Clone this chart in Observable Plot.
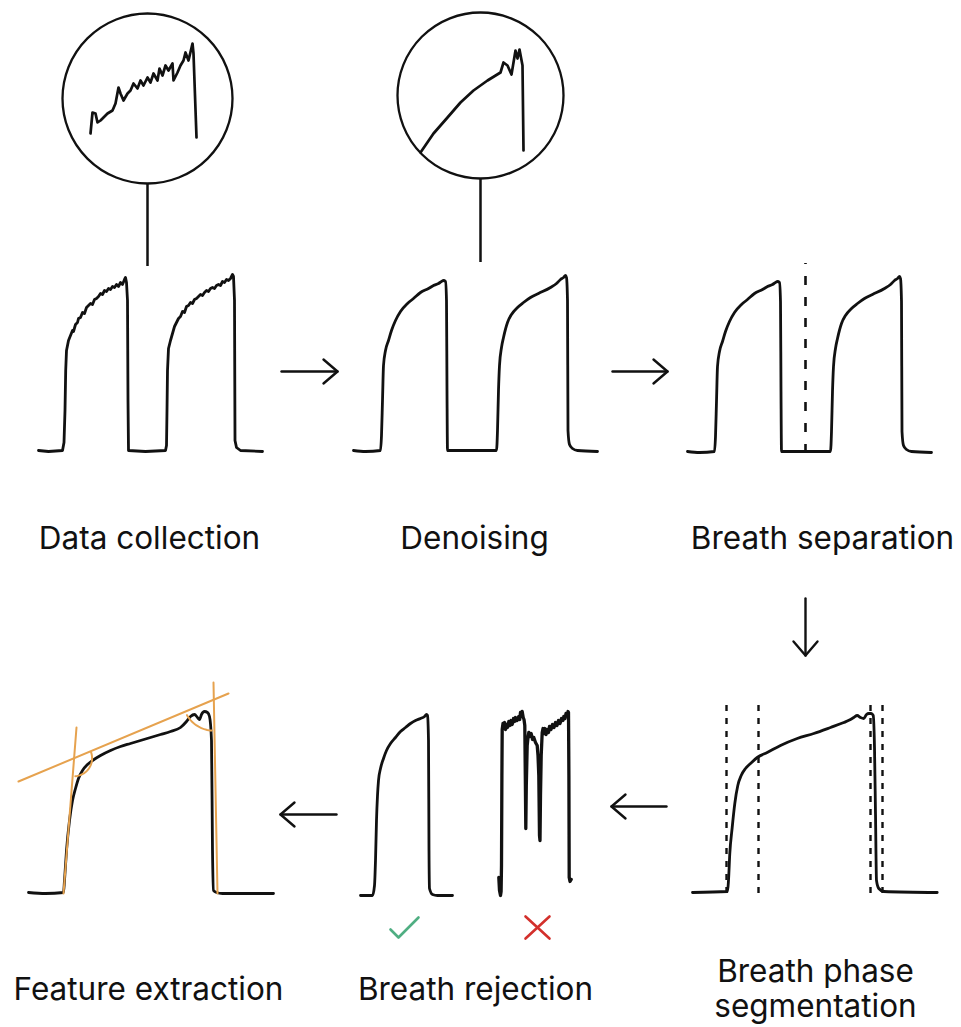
<!DOCTYPE html>
<html><head><meta charset="utf-8">
<script src="https://cdn.jsdelivr.net/npm/d3@7"></script>
<script src="https://cdn.jsdelivr.net/npm/@observablehq/plot@0.6"></script>
<style>html,body{margin:0;padding:0;background:#fff;} #chart svg{display:block}</style>
</head><body><div id="chart"></div>
<script>
// ---------- DATA: waveform shapes as [time, CO2 level] ----------
// Data collection: raw, noisy capnogram (two breaths)
const collectionWave = [[0,0],[10,-1],[24,0],[25.5,8],[26.5,40],[27.2,80],[28,100],[30,110],[32,115],[34,120],[35,119],[37,126],[39,128],[40,132],[42,133],[44,138],[46,137],[48,143],[50,145],[52,147],[54,146],[56,151],[58,152],[60,154],[62,157],[64,156],[66,160],[68,159],[70,162],[72,161],[74,164],[76,163],[78,166],[80,164],[82,168],[84,166],[86,171],[87,173],[88,168],[89,150],[89.5,50],[90,0],[107,-1],[127,0],[128,5],[128.5,40],[129,80],[130,102],[132,110],[134,117],[136,124],[138,128],[140,132],[142,134],[144,139],[146,138],[148,144],[150,145],[152,148],[154,147],[156,151],[158,152],[160,154],[162,156],[164,155],[166,158],[168,160],[170,159],[172,162],[174,163],[176,162],[178,165],[180,166],[182,165],[184,169],[186,168],[188,171],[190,170],[192,172],[194,176],[195,174],[196,150],[196.5,10],[198,3],[202,0],[224,-1]];
// Denoised capnogram (two breaths) – also used for breath separation
const smoothWave = [[0,0],[12,-1],[27,0],[28,15],[29,50],[30,85],[32,100],[35,110],[38,120],[42,130],[47,139],[54,147],[60,152],[67,158],[75,162],[80,165],[85,167],[88,169],[90,170],[92,169],[93,150],[93.5,60],[94,0],[117,0],[143,0],[144,20],[145,60],[146,85],[148,103],[150,113],[154,128],[158,136],[164,143],[170,148],[177,153],[185,157],[197,163],[203,167],[207,171],[210,173],[212,175],[213,173],[214,150],[214.5,20],[216,6],[219,2],[224,0],[244,-1]];
// Zoomed-in plateau, raw
const collectionZoom = [[-57,-35],[-55,-14],[-52,-15],[-50,-24],[-47,-22],[-44,-19],[-40,-15],[-35,-12],[-32,-5],[-29,11],[-27,5],[-24,-2],[-20,5],[-17,8],[-14,15],[-10,10],[-7,18],[-4,13],[0,21],[3,16],[6,25],[10,18],[12,30],[15,23],[18,33],[21,28],[25,35],[26,18],[30,26],[33,33],[36,38],[38,46],[41,38],[45,55],[46,45],[49,-39]];
// Zoomed-in plateau, denoised
const denoisingZoom = [[-60,-57],[-47,-38],[-33,-22],[-20,-7],[-7,5],[7,15],[20,23],[23,33],[27,30],[31,21],[35,45],[37,37],[39,46],[42,30],[43,-55]];
// Single breath used for phase segmentation
const phaseWave = [[0,0],[35,1],[36,12],[37.3,39],[39.7,65],[42.3,89],[45.3,107],[48.7,117],[53,124],[58,129],[64.7,135],[74.7,140],[88,147],[104.7,154],[121.3,159],[138,165],[151.3,170],[158,173],[161.3,175],[164.7,177],[168,175],[171.3,174],[174,178],[176.3,179],[178.7,179],[180.7,177],[182,145],[183,79],[184,12],[186.3,4],[191.3,1],[244.7,0]];
const phaseBoundaries = [34, 66, 178, 190];          // phase segmentation times
const separationBoundary = [118];                    // breath separation time
// Breath rejection: accepted and rejected breaths
const goodBreath = [[0,0],[12,0],[14,10],[15,35],[16,75],[17,100],[18,115],[20,127],[23,137],[26,145],[30,152],[35,158],[40,164],[45,168],[50,172],[55,175],[60,177],[64,179],[66,181],[67,180],[68,155],[68.5,45],[69,7],[72,1],[77,0],[92,0]];
const badBreath = [[0.3,18],[1,5],[2,0],[2.6,4],[3,30],[3.4,120],[3.7,166],[4.5,172],[5.3,168],[6.2,173],[7,166],[8,171],[9,168],[10.3,174],[11.5,170],[12.5,175],[13.7,171],[15,177],[16,174],[17,178],[18.5,175],[20.3,179],[21.2,176],[22,183],[23,180],[23.7,184],[24.7,178],[25.5,176],[26.3,170],[26.8,120],[27.3,67],[27.8,110],[28.7,150],[29.5,158],[30.3,163],[31.5,159],[32.7,162],[34,156],[35.3,158],[37,153],[38.7,150],[39.5,140],[40.3,120],[41,60],[41.5,55],[42,100],[42.7,140],[43.7,163],[44.5,167],[45.3,162],[46.5,167],[47.5,161],[48.7,166],[50,163],[51,169],[52.5,166],[54,171],[55.5,168],[57,173],[58.5,170],[60,175],[61.5,172],[63,177],[64.5,175],[65.3,179],[66.5,177],[67.5,182],[68.7,180],[69.5,184],[70,183],[70.4,120],[70.7,18],[71.5,14],[72.7,16]];
// Feature extraction breath and fitted tangent lines
const featureWave = [[0,0],[17,-1],[35,0],[36,12],[38,42],[41,72],[44,92],[47,104],[50,114],[54,122],[59,128],[64,132],[72,137],[82,142],[92,146],[102,149],[112,152],[122,155],[132,158],[142,161],[152,165],[158,171],[162,176],[166,178],[169,175],[171,173],[173,178],[176,181],[179,180],[181,176],[183,152],[184,42],[185,2],[188,0],[194,-1],[245,-1]];
const fitPlateau = [[-10,111],[200,199]];
const fitUpstroke = [[48,165],[35,-1]];
const fitDownstroke = [[185,210],[189,-1]];
// Step labels
const stepLabels = ["Data collection", "Denoising", "Breath separation", "Feature extraction", "Breath rejection", "Breath phase\nsegmentation"];

// ---------- LAYOUT ----------
const W = 961, H = 1027;
const ink = "#111111", orange = "#E6A24E", green = "#4FAE82", red = "#D3302C";
const origin = {
  collection: {x: 38, y: 450}, denoising: {x: 353, y: 450}, separation: {x: 687, y: 451},
  feature: {x: 28, y: 892}, good: {x: 360, y: 895}, bad: {x: 498, y: 895}, phase: {x: 692, y: 892}
};
const lenses = [
  {cx: 147, cy: 98, r: 85, stemEnd: 266, shape: collectionZoom},
  {cx: 480, cy: 95, r: 83, stemEnd: 262, shape: denoisingZoom}
];
const labelPos = [[149, 547], [474, 547], [822, 547], [148, 998], [475, 998], [815, 998]];
const arrowPos = [[281,371,337,371],[612,371,667,371],[805,598,805,655],[666,806,611,806],[336,814,280,814]];
const arcSpec = [{a: fitPlateau, b: fitUpstroke, r: 18, from: -20, to: 86}, {a: fitPlateau, b: fitDownstroke, r: 31, from: 94, to: 150}];

const place = (shape, o, id) => shape.map(([t, v]) => ({x: o.x + t, y: o.y - v, id}));
const lensPts = lenses.flatMap((l, i) => l.shape.map(([dx, dv]) => ({x: l.cx + dx, y: l.cy - dv, id: "lens" + i})));

const noisy = place(collectionWave, origin.collection, "c");
const smooth = [
  ...place(smoothWave, origin.denoising, "d"),
  ...place(smoothWave, origin.separation, "s"),
  ...place(featureWave, origin.feature, "f"),
  ...place(goodBreath, origin.good, "g"),
  ...place(phaseWave, origin.phase, "p")
];
const bad = place(badBreath, origin.bad, "b");

const fits = [fitPlateau, fitUpstroke, fitDownstroke].flatMap((seg, i) => place(seg, origin.feature, "fit" + i));
function intersect(a, b) {
  const [p1, p2] = place(a, origin.feature, ""), [p3, p4] = place(b, origin.feature, "");
  const d = (p1.x - p2.x) * (p3.y - p4.y) - (p1.y - p2.y) * (p3.x - p4.x);
  const t = ((p1.x - p3.x) * (p3.y - p4.y) - (p1.y - p3.y) * (p3.x - p4.x)) / d;
  return {x: p1.x + t * (p2.x - p1.x), y: p1.y + t * (p2.y - p1.y)};
}
const arcs = arcSpec.flatMap((s, i) => {
  const c = intersect(s.a, s.b);
  return d3.range(0, 21).map(k => {
    const ang = (s.from + (s.to - s.from) * k / 20) * Math.PI / 180;
    return {x: c.x + s.r * Math.cos(ang), y: c.y + s.r * Math.sin(ang), id: "arc" + i};
  });
});

const sepRules = separationBoundary.map(t => ({x: origin.separation.x + t, y1: origin.separation.y + 2, y2: origin.separation.y - 188}));
const phaseRules = phaseBoundaries.map(t => ({x: origin.phase.x + t, y1: origin.phase.y + 1, y2: origin.phase.y - 190}));

const arrows = arrowPos.flatMap(([x1, y1, x2, y2], i) => {
  const len = Math.hypot(x2 - x1, y2 - y1), ux = (x2 - x1) / len, uy = (y2 - y1) / len;
  const back = 14, half = 12;
  return [
    {x: x1, y: y1, id: "s" + i}, {x: x2, y: y2, id: "s" + i},
    {x: x2 - back * ux - half * uy, y: y2 - back * uy + half * ux, id: "h" + i},
    {x: x2, y: y2, id: "h" + i},
    {x: x2 - back * ux + half * uy, y: y2 - back * uy - half * ux, id: "h" + i}
  ];
});

const check = [[-15, 1], [-7, 9], [13, -11]].map(([dx, dy]) => ({x: 405 + dx, y: 928 + dy}));
const cross = [[-12,-11,12,11],[12,-11,-12,11]].flatMap(([a, b, c, d], i) => [{x: 537 + a, y: 927 + b, id: i}, {x: 537 + c, y: 927 + d, id: i}]);

const FS = 31.5;
const labels = stepLabels.map((text, i) => ({text, x: labelPos[i][0], y: labelPos[i][1] - 0.32 * FS}));

const lineOpts = {x: "x", y: "y", z: "id", stroke: ink, strokeWidth: 2.8, strokeLinejoin: "round", strokeLinecap: "round"};
const chart = Plot.plot({
  width: W, height: H, margin: 0,
  x: {domain: [0, W], range: [0, W], axis: null},
  y: {domain: [0, H], range: [0, H], axis: null},
  style: {background: "#fff"},
  marks: [
    Plot.dot([lenses[0]], {x: "cx", y: "cy", r: lenses[0].r, fill: "none", stroke: ink, strokeWidth: 2.3}),
    Plot.dot([lenses[1]], {x: "cx", y: "cy", r: lenses[1].r, fill: "none", stroke: ink, strokeWidth: 2.3}),
    Plot.ruleX(lenses, {x: "cx", y1: d => d.cy + d.r, y2: "stemEnd", stroke: ink, strokeWidth: 2.5}),
    Plot.line(lensPts, {...lineOpts, strokeWidth: 2.7}),
    Plot.ruleX(sepRules, {x: "x", y1: "y1", y2: "y2", stroke: ink, strokeWidth: 2.6, strokeDasharray: "9,12"}),
    Plot.ruleX(phaseRules, {x: "x", y1: "y1", y2: "y2", stroke: ink, strokeWidth: 2.4, strokeDasharray: "6,7"}),
    Plot.line(noisy, lineOpts),
    Plot.line(smooth, {...lineOpts, curve: "monotone-x"}),
    Plot.line(bad, {...lineOpts, strokeWidth: 3.3}),
    Plot.line(fits, {x: "x", y: "y", z: "id", stroke: orange, strokeWidth: 2}),
    Plot.line(arcs, {x: "x", y: "y", z: "id", stroke: orange, strokeWidth: 2}),
    Plot.line(arrows, {x: "x", y: "y", z: "id", stroke: ink, strokeWidth: 2.4, strokeLinecap: "round", strokeLinejoin: "round"}),
    Plot.line(check, {x: "x", y: "y", stroke: green, strokeWidth: 2.6, strokeLinecap: "round"}),
    Plot.line(cross, {x: "x", y: "y", z: "id", stroke: red, strokeWidth: 2.6, strokeLinecap: "round"}),
    Plot.text(labels, {x: "x", y: "y", text: "text", fontFamily: "Inter", fontSize: FS, fill: ink, textAnchor: "middle", lineHeight: 1.12})
  ]
});
document.getElementById("chart").appendChild(chart);
</script></body></html>
